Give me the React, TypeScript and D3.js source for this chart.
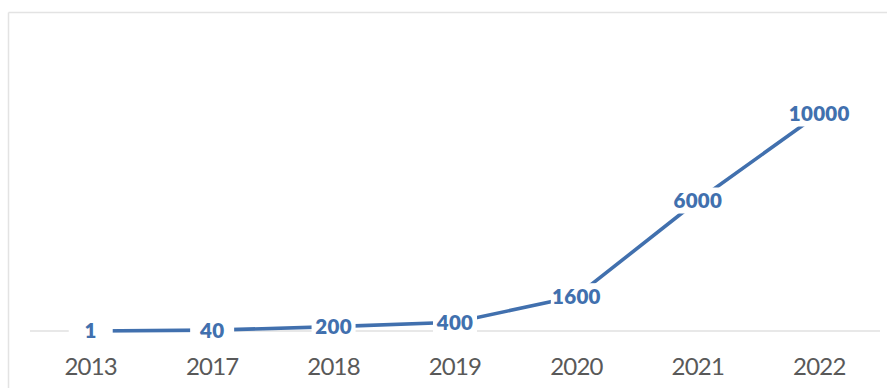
import React from "react";
import * as d3 from "d3";

const categories: string[] = ["2013", "2017", "2018", "2019", "2020", "2021", "2022"];
const values: number[] = [1, 40, 200, 400, 1600, 6000, 10000];

const W = 887;
const H = 388;
const LINE_COLOR = "#4170AE";

export default function App() {
  const x = d3.scaleBand<string>().domain(categories).range([30, 880]);
  const y = d3.scaleLinear().domain([0, 10000]).range([331, 113.5]);
  const cx = (c: string) => (x(c) as number) + x.bandwidth() / 2;

  const line = d3
    .line<number>()
    .x((_, i) => cx(categories[i]))
    .y((d) => y(d));

  const labelFs = 20.5;
  const axisFs = 24;

  return (
    <svg
      width={W}
      height={H}
      style={{ position: "absolute", left: 0, top: 0, background: "#fff" }}
    >
      <rect x={0} y={0} width={W} height={H} fill="#fff" />
      {/* chart border */}
      <line x1={8.5} y1={12.5} x2={W} y2={12.5} stroke="#e3e3e3" strokeWidth={1.5} />
      <line x1={8.5} y1={12.5} x2={8.5} y2={H} stroke="#e3e3e3" strokeWidth={1.5} />
      {/* baseline */}
      <line x1={30} y1={y(0)} x2={880} y2={y(0)} stroke="#e0e0e0" strokeWidth={1.5} />
      {/* series line */}
      <path d={line(values) || ""} fill="none" stroke={LINE_COLOR} strokeWidth={3.6} strokeLinejoin="round" />
      {/* data labels */}
      {values.map((v, i) => {
        const px = cx(categories[i]);
        const py = y(v);
        const txt = String(v);
        const tw = txt.length * 11.8;
        const bw = Math.max(tw + 4, 44);
        const bh = 26;
        return (
          <g key={i}>
            <rect x={px - bw / 2} y={py - bh / 2} width={bw} height={bh} fill="#fff" />
            <text
              x={px}
              y={py + labelFs * 0.36}
              textAnchor="middle"
              fontFamily="Lato, 'Open Sans', sans-serif"
              fontWeight={800}
              fontSize={labelFs}
              letterSpacing={0.3}
              fill={LINE_COLOR}
            >
              {txt}
            </text>
          </g>
        );
      })}
      {/* x-axis labels */}
      {categories.map((c) => (
        <text
          key={c}
          x={cx(c)}
          y={375}
          textAnchor="middle"
          fontFamily="Lato, 'Open Sans', sans-serif"
          fontSize={axisFs}
          letterSpacing={-0.8}
          fill="#595959"
        >
          {c}
        </text>
      ))}
    </svg>
  );
}
